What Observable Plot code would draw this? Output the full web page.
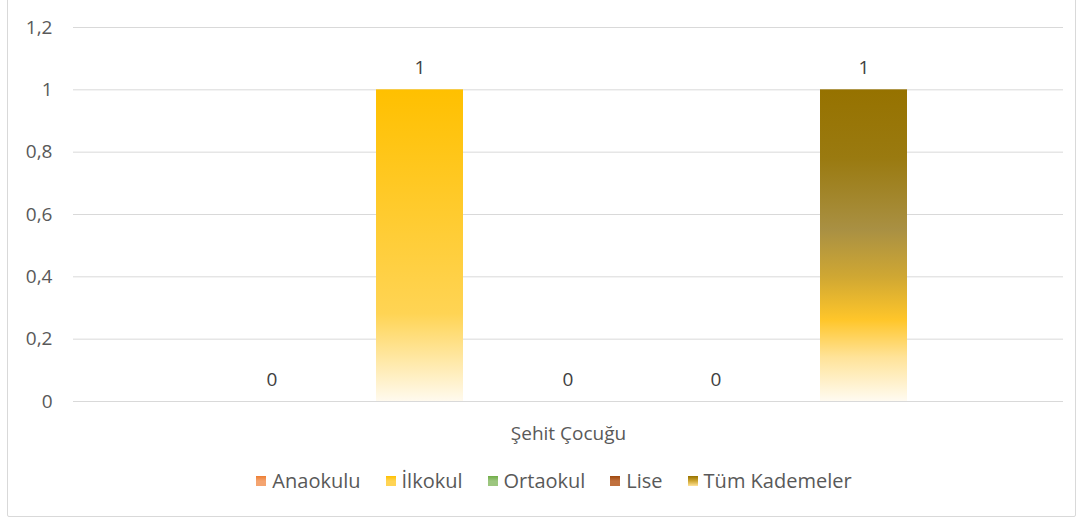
<!DOCTYPE html>
<html>
<head>
<meta charset="utf-8">
<script src="https://cdn.jsdelivr.net/npm/d3@7"></script>
<script src="https://cdn.jsdelivr.net/npm/@observablehq/plot@0.6"></script>
<style>
  html, body { margin: 0; padding: 0; background: #fff; }
  body { width: 1083px; height: 519px; overflow: hidden; position: relative; font-family: "Open Sans", Lato, sans-serif; }
  #frame { position: absolute; left: 7px; top: -2px; width: 1069px; height: 519px; border: 1px solid #d9d9d9; border-radius: 2px; box-sizing: border-box; }
  #chart { position: absolute; left: 0; top: 0; }
  #legend { position: absolute; left: 0; width: 1083px; top: 467px; display: flex; justify-content: center; gap: 25px; font-size: 20px; color: #595959; padding-left: 25px; box-sizing: border-box; }
  .item { display: flex; align-items: center; }
  .sw { width: 10px; height: 10px; margin-right: 6px; }
</style>
</head>
<body>
<div id="frame"></div>
<div id="chart"></div>
<div id="legend"></div>
<script>
const categories = ["Şehit Çocuğu"];
const series = ["Anaokulu", "İlkokul", "Ortaokul", "Lise", "Tüm Kademeler"];
const values = [0, 1, 0, 0, 1];
const yTicks = [0, 0.2, 0.4, 0.6, 0.8, 1, 1.2];

const gradients = [
  [[0, "#ED7D31"], [0.72, "#F4A470"], [1, "#FDF3EC"]],
  [[0, "#FFC000"], [0.72, "#FFD454"], [1, "#FFFAEE"]],
  [[0, "#70AD47"], [0.72, "#9CC67F"], [1, "#F4F9F1"]],
  [[0, "#9E480E"], [0.72, "#C0703D"], [1, "#FBF1EA"]],
  [[0, "#967200"], [0.22, "#9A7A10"], [0.45, "#A99043"], [0.6, "#CFA733"], [0.74, "#FFC62A"], [0.86, "#FFE399"], [1, "#FFFBF1"]]
];

const data = series.map((s, i) => ({category: categories[0], series: s, value: values[i]}));
const fmt = d => String(d).replace(".", ",");

const defs = () => {
  const g = d3.create("svg:defs");
  gradients.forEach((stops, i) => {
    const lg = g.append("linearGradient").attr("id", "grad" + i)
      .attr("x1", 0).attr("y1", 0).attr("x2", 0).attr("y2", 1);
    stops.forEach(([o, c]) => lg.append("stop").attr("offset", o).attr("stop-color", c));
  });
  return g.node();
};

const chart = Plot.plot({
  width: 1083,
  height: 450,
  marginTop: 27,
  marginBottom: 49,
  marginLeft: 73,
  marginRight: 20,
  style: {fontFamily: "'Open Sans', Lato, sans-serif", fontSize: "19px", color: "#595959", background: "transparent"},
  fx: {domain: categories, padding: 0, label: null, axis: "bottom", tickSize: 0, tickPadding: 25},
  x: {domain: series, paddingInner: 0.41, paddingOuter: 1.044, axis: null},
  y: {domain: [0, 1.2], ticks: yTicks, tickFormat: fmt, tickSize: 0, tickPadding: 21, label: null},
  color: {domain: series, range: series.map((s, i) => `url(#grad${i})`)},
  marks: [
    defs,
    Plot.ruleY(yTicks.slice(1), {stroke: "#d9d9d9", strokeWidth: 1}),
    Plot.barY(data, {fx: "category", x: "series", y: "value", fill: "series"}),
    Plot.ruleY([0], {stroke: "#d9d9d9", strokeWidth: 1.2}),
    Plot.text(data, {fx: "category", x: "series", y: "value", text: d => fmt(d.value), dy: -22, fill: "#404040", fontSize: 19})
  ]
});
document.getElementById("chart").appendChild(chart);

const legend = document.getElementById("legend");
series.forEach((s, i) => {
  const item = document.createElement("div");
  item.className = "item";
  const sw = document.createElement("div");
  sw.className = "sw";
  const st = gradients[i];
  sw.style.background = `linear-gradient(to bottom, ${st[0][1]}, ${st[Math.floor(st.length / 2)][1]}, ${st[st.length - 2][1]})`;
  const t = document.createElement("span");
  t.textContent = s;
  item.appendChild(sw);
  item.appendChild(t);
  legend.appendChild(item);
});
</script>
</body>
</html>
